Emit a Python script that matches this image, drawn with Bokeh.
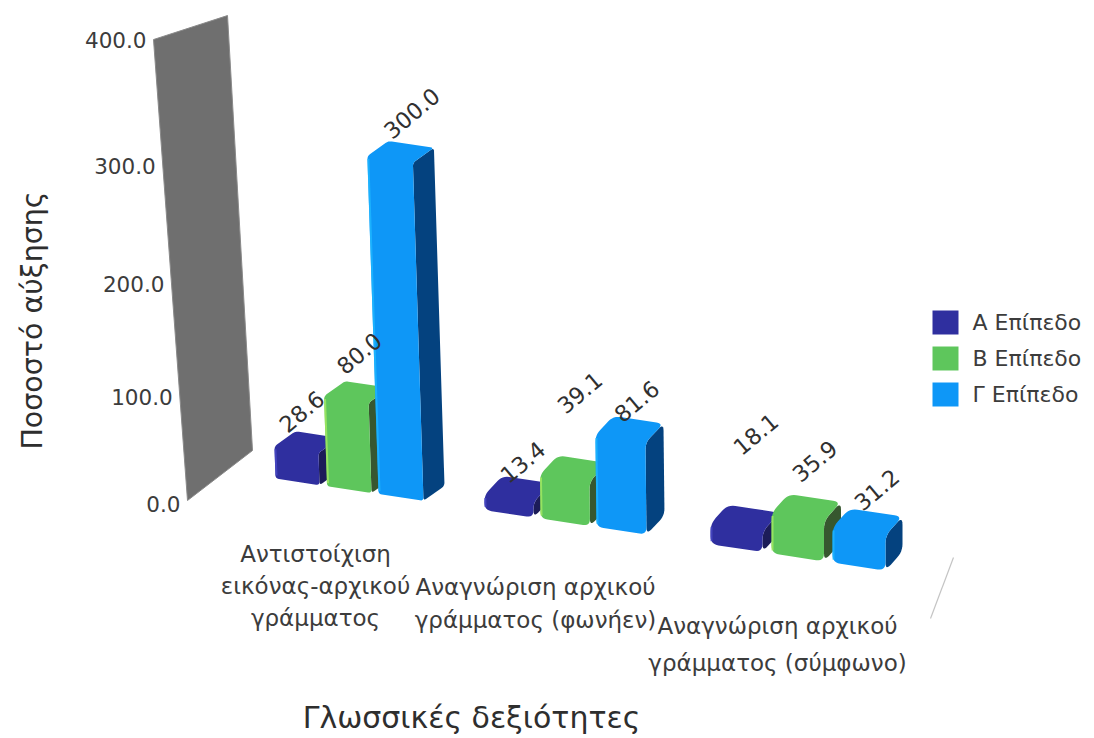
from bokeh.embed import file_html
from bokeh.plotting import figure
from bokeh.resources import INLINE
from bokeh.core.properties import value

# ---- chart values ----
skills = [
    ["Αντιστοίχιση", "εικόνας-αρχικού", "γράμματος"],
    ["Αναγνώριση αρχικού", "γράμματος (φωνήεν)"],
    ["Αναγνώριση αρχικού", "γράμματος (σύμφωνο)"],
]
level_names = ["Α Επίπεδο", "Β Επίπεδο", "Γ Επίπεδο"]
level_a = [28.6, 13.4, 18.1]
level_b = [80.0, 39.1, 35.9]
level_c = [300.0, 81.6, 31.2]
axis_ticks = [0.0, 100.0, 200.0, 300.0, 400.0]
y_title = "Ποσοστό αύξησης"
x_title = "Γλωσσικές δεξιότητες"

# ---- look ----
FONT = "DejaVu Sans"
INK = "#3c3c3c"
face_colors = ["#2f2f9f", "#5ec65c", "#0e97f7"]
side_colors = ["#1c1c58", "#37572f", "#04427f"]
edge_colors = ["#4a4ac6", "#a4ea62", "#1fb8ff"]

# ---- perspective of the scene, in screen units ----
UNIT = 1.127                      # screen height per percentage point
group_x = [275, 484, 710]
group_pitch = [51.5, 56, 61]
group_width = [44, 49, 52]
group_depth = [(21, -15), (18, -19), (17, -19)]
group_lean = [0.033, 0.012, 0.0]
group_round = [3.5, 7, 8]
FLOOR_SLOPE = 0.151
FLOOR_Y0 = 436.5
# where each value label sits relative to its bar's top left corner
label_shift = [
    [(26, -35), (32, -43), (33, -43)],
    [(38, -33), (39, -82), (40, -34)],
    [(45, -90), (43, -52), (44, -38)],
]


def floor_y(x):
    return FLOOR_Y0 + FLOOR_SLOPE * x


def wall_fraction(v):
    # foreshortening of the vertical axis towards the top of the scene
    t = v / axis_ticks[-1]
    return (416.7 / 466) * t / (1 - 0.1057 * t)


def wall_edge(v, near=True):
    f = wall_fraction(v)
    if near:
        return 187 - 34 * f, 500 - 461 * f
    return 252 - 25 * f, 450 - 435 * f


def rounded(points, r):
    # replaces each corner with a short quadratic arc
    xs, ys = [], []
    n = len(points)
    for i in range(n):
        x0, y0 = points[i - 1]
        x1, y1 = points[i]
        x2, y2 = points[(i + 1) % n]
        d1 = max(((x1 - x0) ** 2 + (y1 - y0) ** 2) ** 0.5, 1e-6)
        d2 = max(((x2 - x1) ** 2 + (y2 - y1) ** 2) ** 0.5, 1e-6)
        a = min(r, d1 / 2) / d1
        b = min(r, d2 / 2) / d2
        sx, sy = x1 + (x0 - x1) * a, y1 + (y0 - y1) * a
        ex, ey = x1 + (x2 - x1) * b, y1 + (y2 - y1) * b
        for k in range(7):
            t = k / 6
            xs.append((1 - t) ** 2 * sx + 2 * t * (1 - t) * x1 + t ** 2 * ex)
            ys.append((1 - t) ** 2 * sy + 2 * t * (1 - t) * y1 + t ** 2 * ey)
    return xs, ys


p = figure(
    width=1094, height=738, x_range=(0, 1094), y_range=(738, 0),
    x_axis_type=None, y_axis_type=None, toolbar_location=None,
    output_backend="svg", min_border=0, outline_line_color=None,
    background_fill_color="white", border_fill_color="white",
)
p.grid.visible = False


def label(x, y, text, size, anchor="center", angle=0, color=INK):
    p.text([x], [y], text=[text], text_font=value(FONT), text_font_size=size,
           text_color=color, text_align=anchor, text_baseline="middle",
           angle=angle, angle_units="deg")


# back wall of the value axis
corners = [wall_edge(0), wall_edge(0, False), wall_edge(axis_ticks[-1], False), wall_edge(axis_ticks[-1])]
p.patch([c[0] for c in corners], [c[1] for c in corners], fill_color="#6f6f6f", line_color="#8a8a8a", line_width=1)

# faint floor edge on the far right
p.line([953, 930], [557, 618], line_color="#c4c4c4", line_width=1.2)

for v in axis_ticks:
    ex, ey = wall_edge(v)
    tick_y = ey + 3 - 3 * wall_fraction(v)
    label(ex - 7, tick_y, f"{v:.1f}", "21.5px", anchor="right")

# bars: one group per skill, back to front from left to right
levels = [level_a, level_b, level_c]
text_jobs = []
for g in range(3):
    dx, dy = group_depth[g]
    for s in range(3):
        val = levels[s][g]
        w = group_width[g] + s * 0.5
        xl = group_x[g] + s * group_pitch[g]
        xr = xl + w
        yl, yr = floor_y(xl), floor_y(xr)
        h = val * UNIT
        lean = group_lean[g]
        xlt, xrt = xl - lean * h, xr - lean * h * 0.95
        ylt, yrt = yl - h, yr - h

        side = [(xr, yr), (xr + dx, yr + dy), (xrt + dx, yrt + dy), (xrt, yrt)]
        sx, sy = rounded(side, group_round[g])
        p.patch(sx, sy, fill_color=side_colors[s], line_color=None)

        body = [(xl, yl), (xr, yr), (xrt, yrt), (xrt + dx, yrt + dy), (xlt + dx, ylt + dy), (xlt, ylt)]
        bx, by = rounded(body, group_round[g])
        p.patch(bx, by, fill_color=face_colors[s], line_color=None)

        # lit left edge of the front face
        p.line([xlt + 1, xl + 1], [ylt + 3, yl - 3], line_color=edge_colors[s], line_width=2, line_alpha=0.8)

        ox, oy = label_shift[g][s]
        text_jobs.append((xl + ox, ylt + oy, f"{val:.1f}"))

for x, y, t in text_jobs:
    label(x, y, t, "22.5px", angle=40, color="#303030")

# category captions, one text per line
caption_pos = [(315, 553, 32), (535, 586, 33), (777, 625, 37)]
for lines, (cx, cy, step) in zip(skills, caption_pos):
    for i, line in enumerate(lines):
        label(cx, cy + i * step, line, "23px")

# axis titles
label(32, 320, y_title, "28.5px", angle=90, color="#2e2e2e")
label(471, 717, x_title, "30px", color="#2e2e2e")

# legend
for i, name in enumerate(level_names):
    top = 310 + i * 36
    p.quad(left=[932], right=[958], top=[top], bottom=[top + 24], fill_color=face_colors[i], line_color=None)
    label(972, top + 12, name, "22px", anchor="left")

open("out.html", "w").write(file_html(p, INLINE))
